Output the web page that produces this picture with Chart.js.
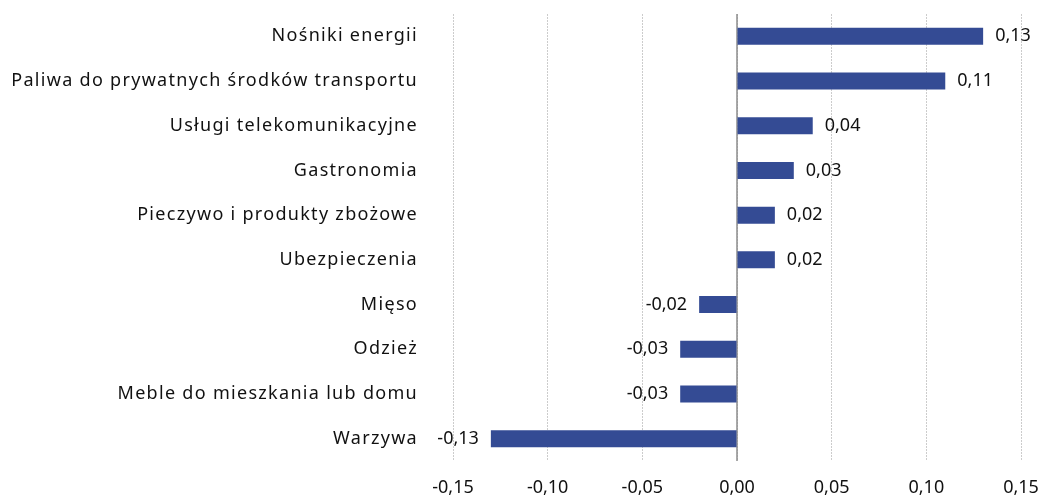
<!DOCTYPE html>
<html>
<head>
<meta charset="utf-8">
<script src="https://cdn.jsdelivr.net/npm/chart.js@4/dist/chart.umd.min.js"></script>
<style>
  html, body { margin: 0; padding: 0; background: #fff; }
  #wrap { width: 1042px; height: 497px; position: relative; }
</style>
</head>
<body>
<div id="wrap"><canvas id="chart"></canvas></div>
<script>
'use strict';

const categories = [
  'Nośniki energii',
  'Paliwa do prywatnych środków transportu',
  'Usługi telekomunikacyjne',
  'Gastronomia',
  'Pieczywo i produkty zbożowe',
  'Ubezpieczenia',
  'Mięso',
  'Odzież',
  'Meble do mieszkania lub domu',
  'Warzywa'
];
const values = [0.13, 0.11, 0.04, 0.03, 0.02, 0.02, -0.02, -0.03, -0.03, -0.13];
const xTicks = [-0.15, -0.10, -0.05, 0.00, 0.05, 0.10, 0.15];

const fontFamily = "'Noto Sans', sans-serif";
const fmt = v => v.toFixed(2).replace('.', ',');

// value labels next to bar ends, plus the solid zero line
const barLabels = {
  id: 'barLabels',
  beforeDatasetsDraw(chart) {
    const ctx = chart.ctx;
    const x = chart.scales.x.getPixelForValue(0);
    ctx.save();
    ctx.strokeStyle = '#8c8c8c';
    ctx.lineWidth = 1.5;
    ctx.beginPath();
    ctx.moveTo(x, chart.chartArea.top);
    ctx.lineTo(x, chart.chartArea.bottom);
    ctx.stroke();
    ctx.restore();
  },
  afterDatasetsDraw(chart) {
    const ctx = chart.ctx;
    const meta = chart.getDatasetMeta(0);
    ctx.save();
    ctx.font = '18px ' + fontFamily;
    ctx.fillStyle = '#111';
    ctx.textBaseline = 'middle';
    meta.data.forEach((bar, i) => {
      const v = values[i];
      if (v >= 0) {
        ctx.textAlign = 'left';
        ctx.fillText(fmt(v), bar.x + 12, bar.y);
      } else {
        ctx.textAlign = 'right';
        ctx.fillText(fmt(v), bar.x - 12, bar.y);
      }
    });
    ctx.restore();
  }
};

const ctx = document.getElementById('chart').getContext('2d');
const myChart = new Chart(ctx, {
  type: 'bar',
  data: {
    labels: categories,
    datasets: [{
      data: values,
      backgroundColor: '#344b94',
      borderWidth: 0,
      barPercentage: 0.76,
      categoryPercentage: 0.5
    }]
  },
  plugins: [barLabels],
  options: {
    indexAxis: 'y',
    responsive: true,
    maintainAspectRatio: false,
    animation: false,
    layout: { padding: { top: 14, right: 21, left: 0, bottom: 0 } },
    plugins: {
      legend: { display: false },
      tooltip: { enabled: false }
    },
    scales: {
      x: {
        min: -0.15,
        max: 0.15,
        afterBuildTicks: scale => { scale.ticks = xTicks.map(v => ({ value: v })); },
        afterFit: scale => { scale.height = 36; },
        ticks: {
          padding: 0,
          color: '#111',
          font: { family: fontFamily, size: 18 },
          callback: v => fmt(v)
        },
        grid: {
          color: '#cccccc',
          lineWidth: 1,
          drawTicks: true,
          tickLength: 16,
          tickColor: 'rgba(0,0,0,0)'
        },
        border: { display: false, dash: [2, 1] }
      },
      y: {
        afterFit: scale => {
          scale.width = 453;
          // letter-spaced category labels, like the original
          if (!scale._spaced) {
            const orig = scale.drawLabels.bind(scale);
            scale.drawLabels = function (area) {
              const c = this.ctx;
              c.save();
              c.letterSpacing = '1.3px';
              orig(area);
              c.restore();
            };
            scale._spaced = true;
          }
        },
        ticks: {
          padding: 0,
          color: '#111',
          font: { family: fontFamily, size: 18 }
        },
        grid: { display: false, drawTicks: true, tickLength: 35 },
        border: { display: false }
      }
    }
  }
});
</script>
</body>
</html>
